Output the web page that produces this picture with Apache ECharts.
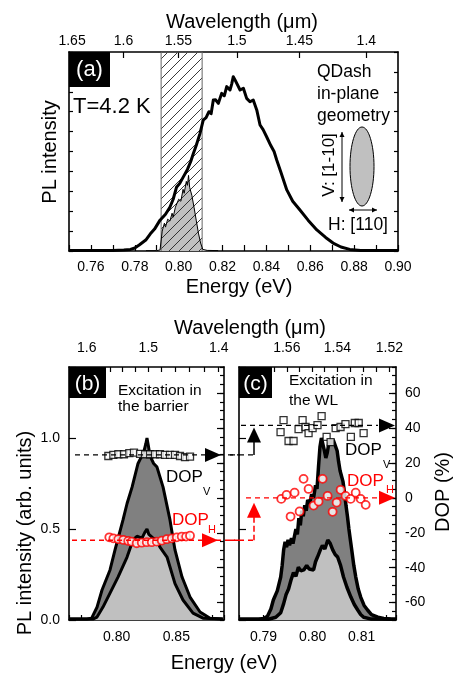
<!DOCTYPE html>
<html>
<head>
<meta charset="utf-8">
<script src="https://cdn.jsdelivr.net/npm/echarts@6/dist/echarts.min.js"></script>
<style>
  html, body { margin: 0; padding: 0; background: #fff; }
  #chart { width: 459px; height: 675px; }
</style>
</head>
<body>
<div id="chart"></div>
<script>
const FONT = "'Liberation Sans', Arial, Helvetica, sans-serif";
const HC = 1.2398; // eV * um

// ---------- tick labels ----------
const wavelengthLabelsA = [1.65, 1.6, 1.55, 1.5, 1.45, 1.4];
const wavelengthLabelsB = [1.6, 1.5, 1.4];
const wavelengthTicksB = [1.62, 1.6, 1.58, 1.56, 1.54, 1.52, 1.5, 1.48, 1.46, 1.44, 1.42, 1.4];
const wavelengthLabelsC = [1.56, 1.54, 1.52];
const wavelengthTicksC = [1.565, 1.56, 1.555, 1.55, 1.545, 1.54, 1.535, 1.53, 1.525, 1.52];
const dopLabels = [-60, -40, -20, 0, 20, 40, 60];

// ---------- panel (a) ----------
const spectrumA = [
  [0.750,0.002],[0.760,0.002],[0.770,0.003],[0.775,0.005],[0.778,0.008],[0.780,0.015],[0.782,0.03],
  [0.785,0.055],[0.787,0.085],[0.789,0.11],[0.7915,0.155],[0.794,0.185],[0.796,0.22],[0.7975,0.26],
  [0.799,0.32],[0.8005,0.34],[0.802,0.37],[0.804,0.41],[0.8055,0.45],[0.8067,0.49],[0.808,0.53],
  [0.8097,0.59],[0.8112,0.658],[0.8125,0.67],[0.8138,0.70],[0.8148,0.69],[0.8158,0.759],[0.8168,0.76],
  [0.8181,0.742],[0.8196,0.792],[0.8208,0.78],[0.8219,0.826],[0.8234,0.809],[0.8242,0.84],[0.8249,0.876],
  [0.8257,0.86],[0.8265,0.851],[0.828,0.809],[0.8295,0.818],[0.831,0.767],[0.8325,0.75],[0.834,0.759],
  [0.8356,0.709],[0.8371,0.633],[0.8385,0.61],[0.8401,0.574],[0.842,0.53],[0.8435,0.50],[0.8447,0.457],
  [0.8465,0.40],[0.8493,0.307],[0.852,0.25],[0.8553,0.206],[0.859,0.155],[0.863,0.106],[0.867,0.068],
  [0.8704,0.04],[0.874,0.02],[0.878,0.008],[0.883,0.003],[0.890,0.002],[0.900,0.002]
];
const filteredA = [
  [0.785,0.002],[0.790,0.002],[0.7915,0.005],[0.7925,0.10],[0.7935,0.14],[0.794,0.12],[0.795,0.16],
  [0.796,0.15],[0.797,0.19],[0.7975,0.17],[0.7985,0.22],[0.799,0.21],[0.800,0.26],[0.801,0.25],
  [0.802,0.31],[0.8025,0.29],[0.8035,0.35],[0.804,0.33],[0.8045,0.38],[0.805,0.32],[0.806,0.28],
  [0.807,0.22],[0.808,0.155],[0.809,0.09],[0.810,0.04],[0.811,0.008],[0.813,0.003],[0.818,0.002]
];
const filterWindowA = [[0.792,0],[0.792,1],[0.8107,1],[0.8107,0]];

// ---------- panel (b) ----------
const outerB = [
  [0.760,0.005],[0.775,0.005],[0.779,0.01],[0.7835,0.07],[0.7877,0.165],[0.7944,0.275],[0.7986,0.385],
  [0.8053,0.55],[0.8087,0.64],[0.8129,0.73],[0.8179,0.86],[0.821,0.90],[0.823,0.93],[0.8245,0.97],
  [0.8254,1.0],[0.8265,0.96],[0.828,0.90],[0.831,0.86],[0.8338,0.84],[0.8389,0.73],[0.8447,0.55],
  [0.8472,0.45],[0.8489,0.385],[0.8548,0.236],[0.8615,0.126],[0.8699,0.044],[0.8783,0.01],[0.889,0.005]
];
const innerB = [
  [0.760,0.005],[0.780,0.005],[0.7835,0.016],[0.7885,0.071],[0.7944,0.148],[0.8011,0.236],[0.8087,0.346],
  [0.8137,0.44],[0.817,0.46],[0.8212,0.45],[0.8235,0.48],[0.8254,0.50],[0.827,0.47],[0.8305,0.45],
  [0.8338,0.44],[0.8363,0.40],[0.8422,0.346],[0.8489,0.2],[0.8556,0.11],[0.864,0.038],[0.8724,0.01],[0.889,0.005]
];
const dopVB = [
  [0.7930,24.0],[0.7972,24.6],[0.8014,25.0],[0.8061,25.0],[0.8106,25.6],[0.8145,25.9],[0.8196,25.2],
  [0.8238,25.0],[0.8280,25.0],[0.8322,25.0],[0.8363,25.0],[0.8405,24.6],[0.8447,24.6],[0.8489,24.6],
  [0.8531,24.0],[0.8573,23.3],[0.8615,23.6]
];
const dopHB = [
  [0.7938,-22.6],[0.7972,-23.2],[0.8014,-23.7],[0.8056,-24.1],[0.8097,-24.7],[0.8126,-25.1],[0.8168,-26.0],
  [0.8210,-25.7],[0.8252,-25.4],[0.8294,-25.4],[0.8336,-25.1],[0.8378,-24.5],[0.8420,-23.7],[0.8462,-23.2],
  [0.8504,-22.6],[0.8545,-22.2],[0.8582,-22.2],[0.8615,-21.7]
];
const dopLevelB = { V: 24.6, H: -24.3 };

// ---------- panel (c) ----------
const outerC = [
  [0.785,0.004],[0.789,0.004],[0.790,0.008],[0.7908,0.02],[0.7915,0.06],[0.792,0.11],[0.7928,0.16],
  [0.7935,0.236],[0.7938,0.30],[0.7941,0.385],[0.7944,0.43],[0.7947,0.40],[0.795,0.44],[0.7953,0.41],
  [0.7957,0.45],[0.796,0.42],[0.7963,0.46],[0.7966,0.50],[0.7969,0.47],[0.7972,0.56],[0.7975,0.52],
  [0.7978,0.60],[0.7981,0.57],[0.7984,0.63],[0.7987,0.60],[0.799,0.66],[0.7994,0.64],[0.7998,0.69],
  [0.8002,0.67],[0.8006,0.74],[0.8009,0.72],[0.8012,0.84],[0.8015,0.95],[0.8018,1.0],[0.8021,0.99],
  [0.8024,0.93],[0.8027,0.89],[0.803,0.92],[0.8033,0.97],[0.8036,0.99],[0.8039,0.96],[0.8042,0.99],
  [0.8046,0.96],[0.805,0.93],[0.8053,0.87],[0.8056,0.82],[0.8059,0.79],[0.8062,0.76],[0.8065,0.70],
  [0.8068,0.63],[0.8071,0.57],[0.8074,0.50],[0.8077,0.44],[0.808,0.38],[0.8084,0.30],[0.8088,0.236],
  [0.8093,0.17],[0.8098,0.126],[0.8105,0.08],[0.8112,0.055],[0.812,0.03],[0.8133,0.016],[0.8145,0.008],
  [0.8159,0.005],[0.817,0.004]
];
const innerC = [
  [0.785,0.004],[0.791,0.004],[0.7925,0.015],[0.7935,0.04],[0.7941,0.09],[0.7946,0.14],[0.7951,0.17],
  [0.7956,0.22],[0.7961,0.26],[0.7966,0.24],[0.7971,0.29],[0.7976,0.27],[0.7982,0.275],[0.7988,0.30],
  [0.7993,0.28],[0.7996,0.29],[0.8002,0.275],[0.8006,0.32],[0.801,0.346],[0.8015,0.38],[0.802,0.41],
  [0.8025,0.39],[0.8031,0.44],[0.8036,0.42],[0.8041,0.385],[0.8046,0.36],[0.8051,0.346],[0.8057,0.30],
  [0.8063,0.236],[0.807,0.18],[0.8078,0.126],[0.8085,0.085],[0.8092,0.055],[0.8098,0.03],[0.8104,0.015],
  [0.812,0.005],[0.817,0.004]
];
const dopVC = [
  [0.79347,37.7],[0.79408,44.6],[0.7951,32.6],[0.79612,32.6],[0.79714,39.4],[0.79796,44.6],[0.79857,40.6],
  [0.79918,37.1],[0.8000,40.0],[0.8010,41.7],[0.80184,46.9],[0.80286,34.9],[0.80367,32.0],[0.8047,40.0],
  [0.8057,40.6],[0.8067,42.3],[0.8078,34.9],[0.8086,42.9],[0.8094,42.9],[0.8104,37.1]
];
const dopHC = [
  [0.79361,-0.6],[0.79469,1.7],[0.79551,-10.7],[0.79633,3.0],[0.79735,-7.8],[0.79816,10.9],[0.79918,5.1],
  [0.8002,-4.4],[0.80122,-2.1],[0.80204,10.9],[0.80306,1.1],[0.80408,-8.0],[0.8049,-2.7],[0.80571,4.6],
  [0.80673,1.1],[0.80776,-0.6],[0.80878,3.0],[0.8098,-0.6],[0.81082,-4.0]
];
const dopLevelC = { V: 41.5, H: 0 };

// ---------- helpers ----------
const toE = lam => HC / lam;
const lamFmt = v => String(parseFloat((HC / v).toFixed(3)));

function hatch() {
  const c = document.createElement('canvas');
  c.width = 10; c.height = 10;
  const ctx = c.getContext('2d');
  ctx.strokeStyle = '#222';
  ctx.lineWidth = 0.9;
  ctx.beginPath();
  ctx.moveTo(-1, 11); ctx.lineTo(11, -1);
  ctx.moveTo(-6, 6); ctx.lineTo(6, -6);
  ctx.moveTo(4, 16); ctx.lineTo(16, 4);
  ctx.stroke();
  return { image: c, repeat: 'repeat' };
}

const black = '#000';
const red = '#ff0000';
const axisLine = { show: true, onZero: false, lineStyle: { color: black, width: 1.6 } };
const noLine = { show: false, onZero: false };
const lbl = (extra) => Object.assign({ color: black, fontSize: 14, fontFamily: FONT }, extra);
const tick = (len, extra) => Object.assign({ inside: true, length: len, lineStyle: { color: black, width: 1.2 } }, extra);

const chart = echarts.init(document.getElementById('chart'));

const option = {
  animation: false,
  backgroundColor: '#fff',
  grid: [
    { left: 69, top: 52, width: 329, height: 199 },
    { left: 69, top: 367, width: 155, height: 253 },
    { left: 239, top: 367, width: 157, height: 253 }
  ],
  xAxis: [
    { type: 'value', gridIndex: 0, position: 'bottom', min: 0.75, max: 0.90, interval: 0.01,
      axisLine, splitLine: { show: false }, axisTick: tick(6),
      axisLabel: lbl({ margin: 9, formatter: v => { const k = Math.round(v * 100); return k % 2 === 0 ? (k / 100).toFixed(2) : ''; } }) },
    { type: 'value', gridIndex: 0, position: 'top', min: 0.75, max: 0.90,
      axisLine, splitLine: { show: false },
      axisTick: tick(6, { customValues: wavelengthLabelsA.map(toE) }),
      axisLabel: lbl({ margin: 4, customValues: wavelengthLabelsA.map(toE), formatter: lamFmt }) },
    { type: 'value', gridIndex: 1, position: 'bottom', min: 0.76, max: 0.89, interval: 0.01,
      axisLine, splitLine: { show: false }, axisTick: tick(5),
      axisLabel: lbl({ margin: 10, formatter: v => { const k = Math.round(v * 100); return k % 5 === 0 ? (k / 100).toFixed(2) : ''; } }) },
    { type: 'value', gridIndex: 1, position: 'top', min: 0.76, max: 0.89,
      axisLine, splitLine: { show: false },
      axisTick: tick(5, { customValues: wavelengthTicksB.map(toE) }),
      axisLabel: lbl({ margin: 12, customValues: wavelengthLabelsB.map(toE), formatter: lamFmt }) },
    { type: 'value', gridIndex: 2, position: 'bottom', min: 0.785, max: 0.817, interval: 0.005,
      axisLine, splitLine: { show: false }, axisTick: tick(5),
      axisLabel: lbl({ margin: 10, formatter: v => { const k = Math.round(v * 1000); return k % 10 === 0 ? (k / 1000).toFixed(2) : ''; } }) },
    { type: 'value', gridIndex: 2, position: 'top', min: 0.785, max: 0.817,
      axisLine, splitLine: { show: false },
      axisTick: tick(5, { customValues: wavelengthTicksC.map(toE) }),
      axisLabel: lbl({ margin: 12, customValues: wavelengthLabelsC.map(toE), formatter: lamFmt }) }
  ],
  yAxis: [
    { type: 'value', gridIndex: 0, position: 'left', min: 0, max: 1, interval: 0.1,
      axisLine, splitLine: { show: false }, axisTick: tick(4), axisLabel: { show: false } },
    { type: 'value', gridIndex: 0, position: 'right', min: 0, max: 1, interval: 0.1,
      axisLine, splitLine: { show: false }, axisTick: tick(4), axisLabel: { show: false } },
    { type: 'value', gridIndex: 1, position: 'left', min: 0, max: 1.39, interval: 0.5,
      axisLine, splitLine: { show: false }, axisTick: tick(7),
      axisLabel: lbl({ margin: 9, formatter: v => Math.abs(v * 2 - Math.round(v * 2)) < 1e-6 ? v.toFixed(1) : '' }) },
    { type: 'value', gridIndex: 1, position: 'right', min: -70, max: 75,
      axisLine, splitLine: { show: false },
      axisTick: tick(7, { customValues: dopLabels }), axisLabel: { show: false } },
    { type: 'value', gridIndex: 1, position: 'right', min: -70, max: 75, interval: 5,
      axisLine: noLine, splitLine: { show: false }, axisTick: tick(4), axisLabel: { show: false } },
    { type: 'value', gridIndex: 2, position: 'left', min: 0, max: 1.39, interval: 0.5,
      axisLine, splitLine: { show: false }, axisTick: tick(7), axisLabel: { show: false } },
    { type: 'value', gridIndex: 2, position: 'right', min: -70, max: 75,
      axisLine, splitLine: { show: false },
      axisTick: tick(7, { customValues: dopLabels }),
      axisLabel: lbl({ margin: 9, customValues: dopLabels }) },
    { type: 'value', gridIndex: 2, position: 'right', min: -70, max: 75, interval: 5,
      axisLine: noLine, splitLine: { show: false }, axisTick: tick(4), axisLabel: { show: false } }
  ],
  series: [
    // (a)
    { type: 'line', xAxisIndex: 0, yAxisIndex: 0, data: filteredA, symbol: 'none', z: 2,
      lineStyle: { width: 0 }, areaStyle: { color: '#c0c0c0', opacity: 1 } },
    { type: 'line', xAxisIndex: 0, yAxisIndex: 0, data: filterWindowA, symbol: 'none', z: 3,
      lineStyle: { color: '#666', width: 1 }, areaStyle: { color: hatch(), opacity: 1 } },
    { type: 'line', xAxisIndex: 0, yAxisIndex: 0, data: filteredA, symbol: 'none', z: 4,
      lineStyle: { color: black, width: 1 } },
    { type: 'line', xAxisIndex: 0, yAxisIndex: 0, data: spectrumA, symbol: 'none', z: 5,
      lineStyle: { color: black, width: 3, join: 'round' } },
    // (b)
    { type: 'line', xAxisIndex: 2, yAxisIndex: 2, data: outerB, symbol: 'none', z: 2,
      lineStyle: { color: black, width: 3 }, areaStyle: { color: '#808080', opacity: 1 } },
    { type: 'line', xAxisIndex: 2, yAxisIndex: 2, data: innerB, symbol: 'none', z: 3,
      lineStyle: { color: black, width: 3 }, areaStyle: { color: '#c0c0c0', opacity: 1 } },
    { type: 'scatter', xAxisIndex: 2, yAxisIndex: 3, data: dopVB, symbol: 'rect', symbolSize: 7, z: 6,
      itemStyle: { color: '#fff', borderColor: black, borderWidth: 1.3 } },
    { type: 'scatter', xAxisIndex: 2, yAxisIndex: 3, data: dopHB, symbol: 'circle', symbolSize: 8, z: 6,
      itemStyle: { color: '#fff', borderColor: red, borderWidth: 1.8 } },
    // (c)
    { type: 'line', xAxisIndex: 4, yAxisIndex: 5, data: outerC, symbol: 'none', z: 2,
      lineStyle: { color: black, width: 3.5 }, areaStyle: { color: '#808080', opacity: 1 } },
    { type: 'line', xAxisIndex: 4, yAxisIndex: 5, data: innerC, symbol: 'none', z: 3,
      lineStyle: { color: black, width: 3.5 }, areaStyle: { color: '#c0c0c0', opacity: 1 } },
    { type: 'scatter', xAxisIndex: 4, yAxisIndex: 6, data: dopVC, symbol: 'rect', symbolSize: 7, z: 6,
      itemStyle: { color: '#fff', borderColor: black, borderWidth: 1.3 } },
    { type: 'scatter', xAxisIndex: 4, yAxisIndex: 6, data: dopHC, symbol: 'circle', symbolSize: 8, z: 6,
      itemStyle: { color: '#fff', borderColor: red, borderWidth: 1.8 } }
  ]
};
chart.setOption(option);

// ---------- annotations ----------
const pyB = d => chart.convertToPixel({ xAxisIndex: 2, yAxisIndex: 3 }, [0.8, d])[1];
const pyC = d => chart.convertToPixel({ xAxisIndex: 4, yAxisIndex: 6 }, [0.8, d])[1];

function txt(text, x, y, size, o) {
  o = o || {};
  return { type: 'text', x, y, rotation: o.rot || 0, z: 100, silent: true,
    style: { text, fill: o.color || black, font: size + 'px ' + FONT,
      textAlign: o.align || 'left', textVerticalAlign: 'middle' } };
}
function dash(x1, x2, y, color) {
  return { type: 'line', z: 50, silent: true, shape: { x1, y1: y, x2, y2: y },
    style: { stroke: color, lineWidth: 1.3, lineDash: [5, 4] } };
}
function triRight(tipX, y, color) {
  return { type: 'polygon', z: 60, silent: true,
    shape: { points: [[tipX, y], [tipX - 16, y - 7], [tipX - 16, y + 7]] }, style: { fill: color } };
}
function upArrow(x, tipY, baseY, color, dashed) {
  return [
    { type: 'polygon', z: 60, silent: true,
      shape: { points: [[x, tipY], [x - 7, tipY + 15], [x + 7, tipY + 15]] }, style: { fill: color } },
    { type: 'line', z: 60, silent: true, shape: { x1: x, y1: tipY + 14, x2: x, y2: baseY },
      style: { stroke: color, lineWidth: 1.5, lineDash: dashed ? [6, 3] : null } }
  ];
}
function dArrow(x1, y1, x2, y2) {
  const a = Math.atan2(y2 - y1, x2 - x1), h = 5, w = 2.5;
  const head = (x, y, ang) => ({ type: 'polygon', z: 60, silent: true, style: { fill: black },
    shape: { points: [[x, y],
      [x - h * Math.cos(ang) + w * Math.sin(ang), y - h * Math.sin(ang) - w * Math.cos(ang)],
      [x - h * Math.cos(ang) - w * Math.sin(ang), y - h * Math.sin(ang) + w * Math.cos(ang)]] } });
  return [
    { type: 'line', z: 60, silent: true, shape: { x1, y1, x2, y2 }, style: { stroke: black, lineWidth: 1 } },
    head(x2, y2, a), head(x1, y1, a + Math.PI)
  ];
}

const bVy = pyB(dopLevelB.V), bHy = pyB(dopLevelB.H);
const cVy = pyC(dopLevelC.V), cHy = pyC(dopLevelC.H);

const graphic = [
  // panel (a)
  { type: 'rect', z: 90, shape: { x: 69, y: 52, width: 41, height: 35 }, style: { fill: black } },
  txt('(a)', 89.5, 70, 22, { color: '#fff', align: 'center' }),
  txt('T=4.2 K', 73, 107, 22),
  txt('Wavelength (μm)', 242, 22, 20, { align: 'center' }),
  txt('Energy (eV)', 239, 287, 20, { align: 'center' }),
  txt('PL intensity', 50, 152, 20, { align: 'center', rot: Math.PI / 2 }),
  txt('QDash', 317, 72, 17.5),
  txt('in-plane', 317, 94, 17.5),
  txt('geometry', 317, 116, 17.5),
  { type: 'ellipse', z: 60, shape: { cx: 362, cy: 166.5, rx: 12, ry: 39.5 },
    style: { fill: '#c0c0c0', stroke: black, lineWidth: 1 } },
  ...dArrow(342, 132, 342, 202),
  ...dArrow(349, 210, 377, 210),
  txt('V: [1-10]', 329, 165, 17, { align: 'center', rot: Math.PI / 2 }),
  txt('H: [110]', 328, 225, 17.5),

  // panels (b) & (c) shared titles
  txt('Wavelength (μm)', 250, 328, 20, { align: 'center' }),
  txt('Energy (eV)', 224, 663, 20, { align: 'center' }),
  txt('PL intensity (arb. units)', 25, 533, 20, { align: 'center', rot: Math.PI / 2 }),
  txt('DOP (%)', 443, 492, 20, { align: 'center', rot: Math.PI / 2 }),

  // panel (b)
  { type: 'rect', z: 90, shape: { x: 69, y: 367, width: 37, height: 31 }, style: { fill: black } },
  txt('(b)', 87.5, 384, 21, { color: '#fff', align: 'center' }),
  txt('Excitation in', 118, 391, 15.5),
  txt('the barrier', 118, 407, 15.5),
  dash(75, 240, bVy, black),
  dash(72, 240, bHy, red),
  triRight(221, bVy, black),
  triRight(218, bHy, red),
  txt('DOP', 166, 477, 17),
  txt('V', 203, 492, 11),
  txt('DOP', 172, 520, 17, { color: red }),
  txt('H', 208, 530, 11, { color: red }),

  // panel (c)
  { type: 'rect', z: 90, shape: { x: 239, y: 367, width: 33, height: 31 }, style: { fill: black } },
  txt('(c)', 255.5, 384, 21, { color: '#fff', align: 'center' }),
  txt('Excitation in', 289, 381, 15.5),
  txt('the WL', 289, 401, 15.5),
  dash(241, 378, cVy, black),
  dash(246, 378, cHy, red),
  triRight(395, cVy, black),
  triRight(395, cHy, red),
  dash(230, 253, bVy, black),
  dash(230, 255, bHy, red),
  ...upArrow(254, cVy + 2, bVy, black, false),
  ...upArrow(254, cHy + 5, bHy, red, true),
  txt('DOP', 345, 450, 17),
  txt('V', 383, 465, 11),
  txt('DOP', 347, 481, 17, { color: red }),
  txt('H', 386, 490, 11, { color: red })
];
chart.setOption({ graphic });
</script>
</body>
</html>
